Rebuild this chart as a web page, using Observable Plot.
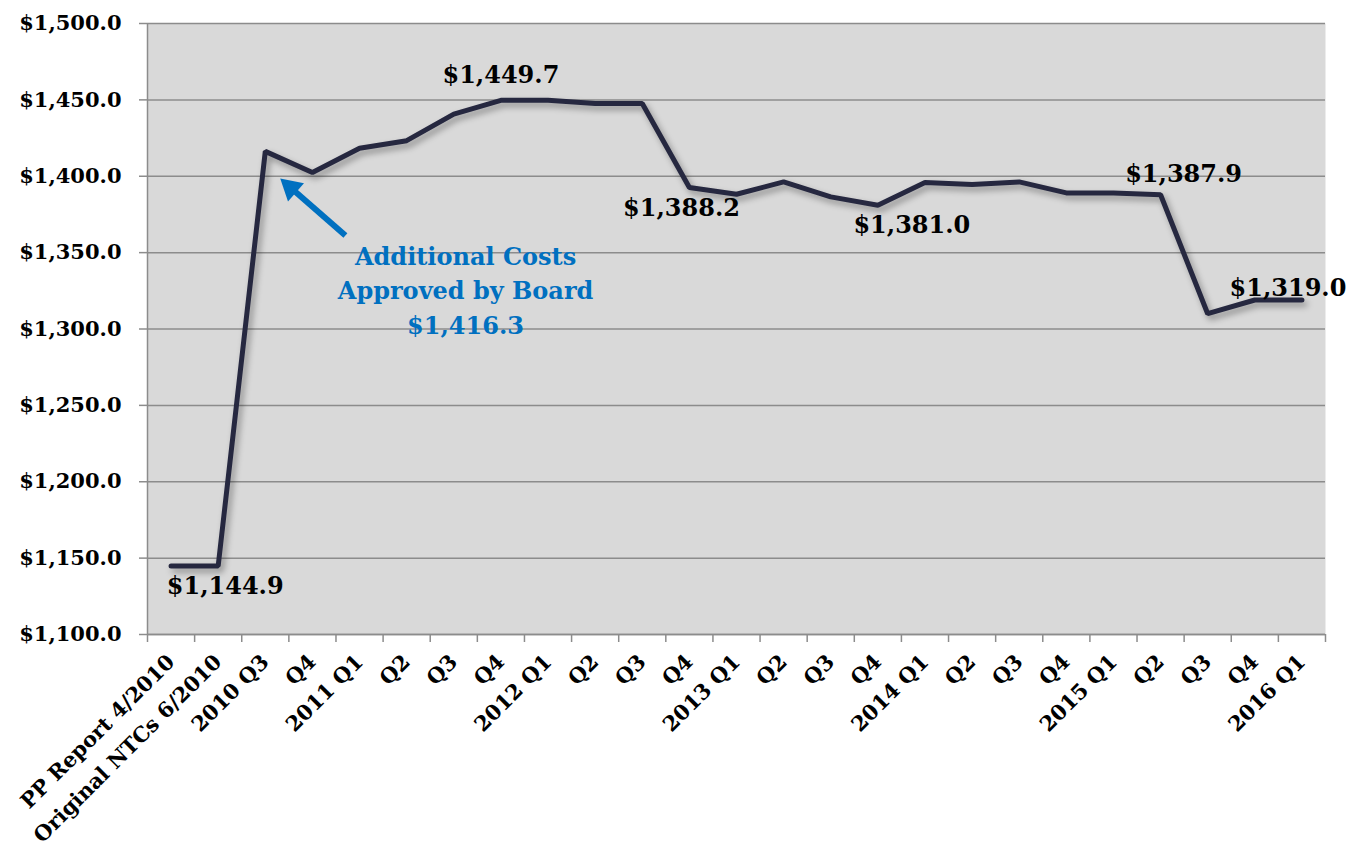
<!DOCTYPE html>
<html>
<head>
<meta charset="utf-8">
<script src="https://cdn.jsdelivr.net/npm/d3@7"></script>
<script src="https://cdn.jsdelivr.net/npm/@observablehq/plot@0.6"></script>
<style>
  html, body { margin: 0; padding: 0; background: #ffffff; }
</style>
</head>
<body>
<div id="chart"></div>
<script>
// ---- data ----
const categories = ["PP Report 4/2010", "Original NTCs 6/2010", "2010 Q3", "Q4", "2011 Q1", "Q2", "Q3", "Q4",
  "2012 Q1", "Q2", "Q3", "Q4", "2013 Q1", "Q2", "Q3", "Q4", "2014 Q1", "Q2", "Q3", "Q4",
  "2015 Q1", "Q2", "Q3", "Q4", "2016 Q1"];
const costs = [1144.9, 1144.9, 1416.3, 1402.4, 1418.3, 1423.3, 1440.7, 1449.7,
  1449.7, 1447.6, 1447.6, 1392.6, 1388.2, 1396.3, 1386.5, 1381.0, 1395.9, 1394.6, 1396.3, 1389.1,
  1389.1, 1387.9, 1310.0, 1319.0, 1319.0];
const yTicks = [1100, 1150, 1200, 1250, 1300, 1350, 1400, 1450, 1500];
const labelIndices = [1, 7, 12, 15, 21, 24];
const annotationText = "Additional Costs\nApproved by Board\n$1,416.3";

// ---- styling / placement ----
const labelOffsets = [[7, 20], [0, -25], [-55, 14], [34, 20], [23, -20], [-14, -12]];
const annotationPos = {x: 6.25, y: 1326.5};
const arrowTail = {x: 3.70, y: 1361.2};
const arrowHead = {x: 2.54, y: 1392.5};

const fmt = d3.format("$,.1f");
const data = costs.map((v, i) => ({i, v}));
const boundaries = d3.range(categories.length + 1).map(i => i - 0.5);
const gray = "#8c8c8c";
const font = "'DejaVu Serif', serif";

const chart = Plot.plot({
  width: 1363,
  height: 855,
  marginLeft: 147,
  marginRight: 38,
  marginTop: 23,
  marginBottom: 221,
  style: {fontFamily: font, fontWeight: "bold", background: "#ffffff", color: "#000"},
  x: {domain: [-0.5, categories.length - 0.5], axis: null},
  y: {domain: [1100, 1500], axis: null},
  marks: [
    Plot.frame({fill: "#d9d9d9", stroke: null}),
    Plot.gridY(yTicks, {stroke: gray, strokeOpacity: 1, strokeWidth: 1.5}),
    Plot.ruleX([-0.5], {stroke: gray, strokeWidth: 1.5}),
    Plot.ruleY([1100], {stroke: gray, strokeWidth: 1.5}),
    Plot.ruleX(boundaries, {y1: 1100, y2: 1100, insetBottom: -8, stroke: gray, strokeWidth: 1.5}),
    Plot.axisY({ticks: yTicks, tickFormat: fmt, tickSize: 8, tickPadding: 18, fontSize: 21,
      stroke: gray, strokeWidth: 1.5, fill: "#000", fontWeight: "bold", label: null}),
    Plot.axisX({ticks: d3.range(categories.length), tickFormat: i => categories[i], tickRotate: -45,
      tickSize: 0, tickPadding: 24, fontSize: 21, fill: "#000", fontWeight: "bold", label: null}),
    Plot.line(data, {x: "i", y: "v", stroke: "#262840", strokeWidth: 5, strokeLinejoin: "miter",
      imageFilter: "drop-shadow(3px 4px 3px rgba(0,0,0,0.35))"}),
    ...labelIndices.map((idx, k) => Plot.text([data[idx]], {
      x: "i", y: "v", text: d => fmt(d.v), dx: labelOffsets[k][0], dy: labelOffsets[k][1],
      fontSize: 24, fontWeight: "bold", fill: "#000"
    })),
    Plot.link([0], {x1: arrowTail.x, y1: arrowTail.y, x2: arrowHead.x, y2: arrowHead.y,
      stroke: "#0070c0", strokeWidth: 6}),
    Plot.dot([0], {x: arrowHead.x, y: arrowHead.y, symbol: "triangle", r: 9, rotate: -48.7,
      fill: "#0070c0", stroke: null}),
    Plot.text([annotationText], {x: annotationPos.x, y: annotationPos.y, text: d => d,
      fill: "#0070c0", fontSize: 24, fontWeight: "bold", lineHeight: 1.42, lineAnchor: "middle"})
  ]
});
document.getElementById("chart").appendChild(chart);
</script>
</body>
</html>
